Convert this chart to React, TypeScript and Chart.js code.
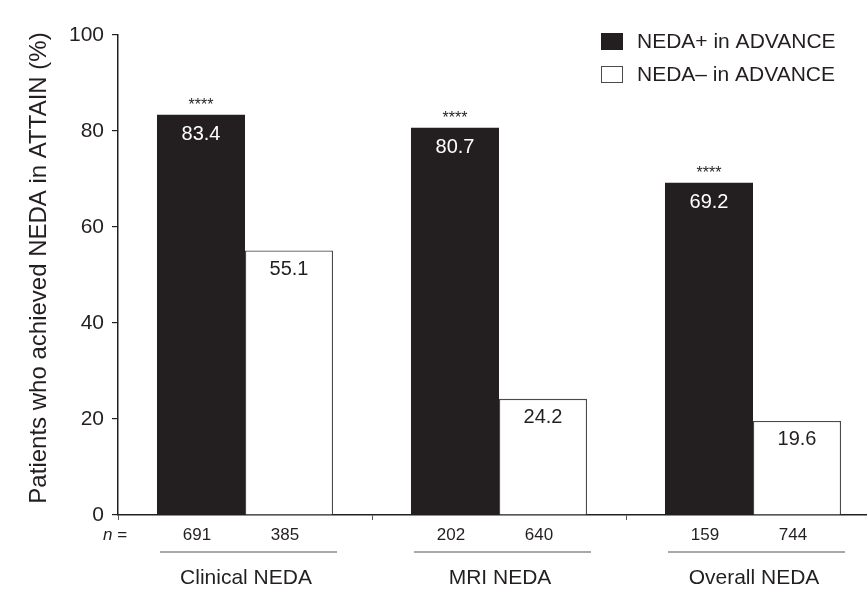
import React, { useEffect, useRef } from "react";
import { Chart, registerables } from "chart.js";

Chart.register(...registerables);

const categories = ["Clinical NEDA", "MRI NEDA", "Overall NEDA"];
const nedaPositive = [83.4, 80.7, 69.2];
const nedaNegative = [55.1, 24.2, 19.6];
const nPositive = [691, 202, 159];
const nNegative = [385, 640, 744];
const significance = ["****", "****", "****"];
const seriesNames = ["NEDA+ in ADVANCE", "NEDA\u2013 in ADVANCE"];
const yTickValues = [0, 20, 40, 60, 80, 100];
const yTitle = "Patients who achieved NEDA in ATTAIN (%)";

const FONT = '"Liberation Sans", Arial, Helvetica, sans-serif';
const INK = "#231f20";
const OUTLINE = "#4a4a4a";

const annotations = {
  id: "annotations",
  afterDatasetsDraw(chart: any) {
    const ctx = chart.ctx;
    const metaPos = chart.getDatasetMeta(0);
    const metaNeg = chart.getDatasetMeta(1);
    const xScale = chart.scales.x;
    const yScale = chart.scales.y;
    const base = yScale.getPixelForValue(0);
    ctx.save();
    ctx.textAlign = "center";
    ctx.textBaseline = "middle";

    categories.forEach((cat, i) => {
      const bp = metaPos.data[i];
      const bn = metaNeg.data[i];
      // values inside bars
      ctx.font = `20px ${FONT}`;
      ctx.fillStyle = "#ffffff";
      ctx.fillText(nedaPositive[i].toFixed(1), bp.x, bp.y + 20);
      ctx.fillStyle = INK;
      ctx.fillText(nedaNegative[i].toFixed(1), bn.x, bn.y + 19);
      // significance markers
      ctx.font = `16px ${FONT}`;
      ctx.fillText(significance[i], bp.x, bp.y - 9);

      // sample sizes
      ctx.font = `17px ${FONT}`;
      ctx.fillText(String(nPositive[i]), bp.x - 4, base + 20);
      ctx.fillText(String(nNegative[i]), bn.x - 4, base + 20);

      // underline beneath sample sizes
      const left = bp.x - bp.width / 2 + 3;
      const right = bn.x + bn.width / 2 + 4;
      ctx.strokeStyle = "#555555";
      ctx.lineWidth = 1.2;
      ctx.beginPath();
      ctx.moveTo(left, base + 37);
      ctx.lineTo(right, base + 37);
      ctx.stroke();

      // category label
      ctx.font = `21px ${FONT}`;
      ctx.fillStyle = INK;
      ctx.fillText(cat, xScale.getPixelForValue(i) + 1, base + 63);
    });

    // "n =" row label
    ctx.textAlign = "left";
    ctx.font = `italic 17px ${FONT}`;
    ctx.fillText("n", 103, base + 20);
    const nW = ctx.measureText("n").width;
    ctx.font = `17px ${FONT}`;
    ctx.fillText(" =", 103 + nW, base + 20);

    // y-axis title
    ctx.save();
    ctx.translate(39, 268);
    ctx.rotate(-Math.PI / 2);
    ctx.textAlign = "center";
    ctx.font = `24px ${FONT}`;
    ctx.fillStyle = INK;
    ctx.fillText(yTitle, 0, 0);
    ctx.restore();

    // legend
    ctx.textAlign = "left";
    ctx.font = `21px ${FONT}`;
    ctx.fillStyle = INK;
    ctx.fillRect(601, 33, 22, 17);
    ctx.fillText(seriesNames[0], 637, 42);
    ctx.fillStyle = "#ffffff";
    ctx.fillRect(601, 66, 22, 17);
    ctx.strokeStyle = OUTLINE;
    ctx.lineWidth = 1;
    ctx.strokeRect(601.5, 66.5, 21, 16);
    ctx.fillStyle = INK;
    ctx.fillText(seriesNames[1], 637, 75);

    ctx.restore();
  },
};

export default function App() {
  const canvasRef = useRef<HTMLCanvasElement | null>(null);

  useEffect(() => {
    if (!canvasRef.current) return;
    const chart = new Chart(canvasRef.current, {
      type: "bar",
      data: {
        labels: categories,
        datasets: [
          {
            label: seriesNames[0],
            data: nedaPositive,
            backgroundColor: INK,
            borderColor: INK,
            borderWidth: 0,
            categoryPercentage: 0.693,
            barPercentage: 1,
          },
          {
            label: seriesNames[1],
            data: nedaNegative,
            backgroundColor: "#ffffff",
            borderColor: OUTLINE,
            borderWidth: 1.3,
            categoryPercentage: 0.693,
            barPercentage: 1,
          },
        ],
      },
      options: {
        responsive: false,
        animation: false,
        layout: { padding: { top: 35, left: 0, right: 0, bottom: 0 } },
        plugins: {
          legend: { display: false },
          tooltip: { enabled: false },
        },
        scales: {
          x: {
            grid: {
              display: true,
              drawOnChartArea: false,
              drawTicks: true,
              tickLength: 5,
              color: "#555555",
              lineWidth: 1,
              offset: true,
            },
            border: { display: true, color: INK, width: 1.5 },
            ticks: { display: false },
            afterFit: (scale: any) => {
              scale.height = 75;
            },
          },
          y: {
            min: 0,
            max: 100,
            afterBuildTicks: (scale: any) => {
              scale.ticks = yTickValues.map((v) => ({ value: v }));
            },
            grid: {
              display: true,
              drawOnChartArea: false,
              drawTicks: true,
              tickLength: 6,
              color: INK,
              lineWidth: 1.2,
            },
            border: { display: true, color: INK, width: 1.5 },
            ticks: {
              color: INK,
              font: { family: FONT, size: 21 },
              padding: 8,
            },
            afterFit: (scale: any) => {
              scale.width = 118;
            },
          },
        },
      },
      plugins: [annotations],
    });
    return () => chart.destroy();
  }, []);

  return (
    <div
      style={{
        position: "absolute",
        left: 0,
        top: 0,
        width: 867,
        height: 590,
        overflow: "hidden",
        background: "#ffffff",
      }}
    >
      <canvas ref={canvasRef} width={880} height={590} style={{ display: "block" }} />
    </div>
  );
}
